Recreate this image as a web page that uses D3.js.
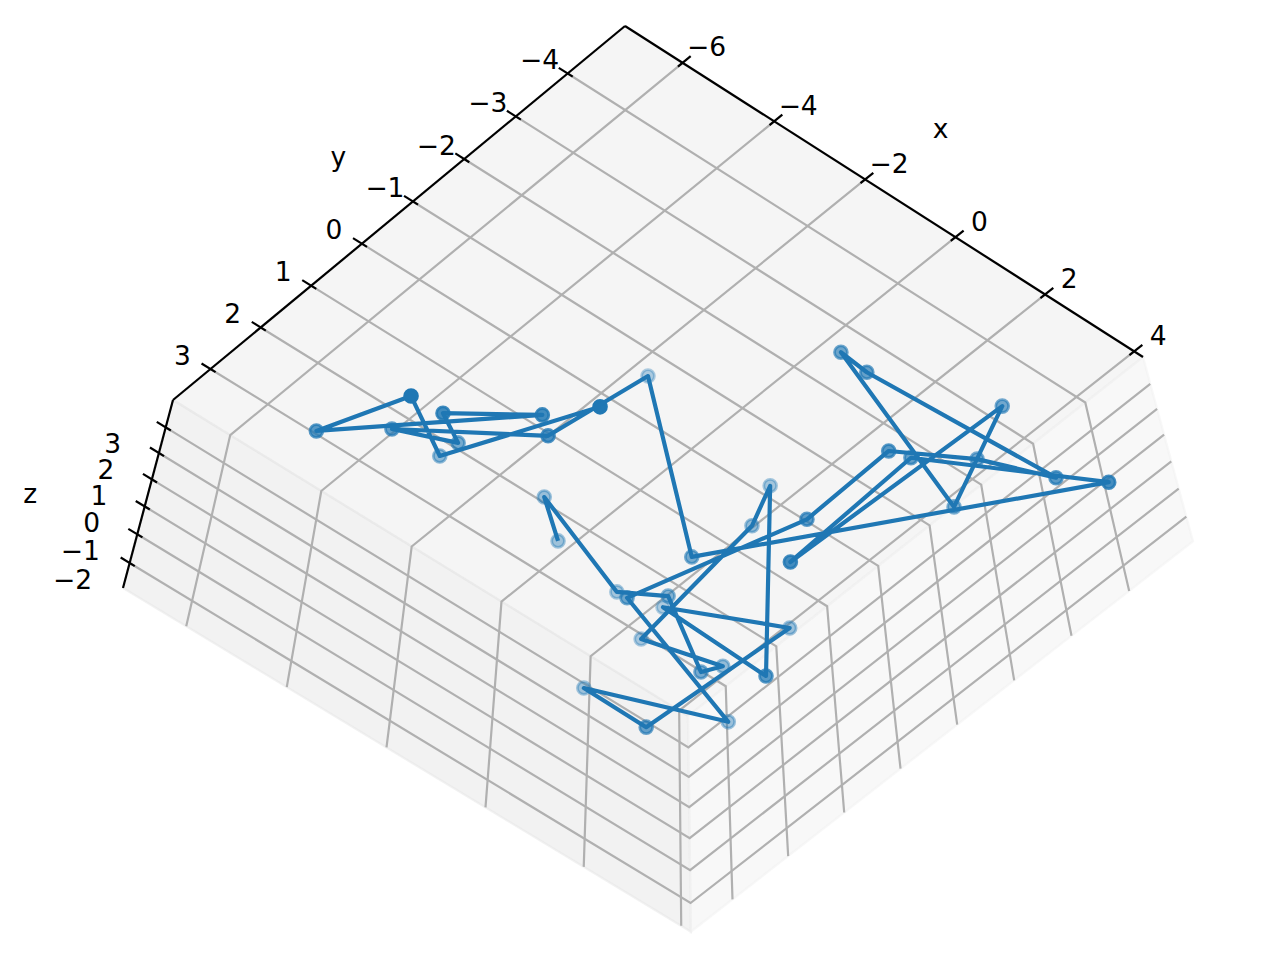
<!DOCTYPE html>
<html><head><meta charset="utf-8"><script src="https://cdn.jsdelivr.net/npm/d3@7"></script>
<style>html,body{margin:0;background:#fff}text{font-family:"DejaVu Sans",sans-serif;fill:#000}</style></head>
<body><svg id="c" width="1280" height="960"></svg>
<script>
// walk values, in path order
const xVals=[-0.89,-1.73,0.62,0.74,1.89,2.68,1.65,1.07,1.06,2.10,1.62,3.11,1.66,1.51,3.61,-0.11,0.66,0.61,2.38,2.97,-0.43,-0.85,2.83,1.88,0.50,1.17,3.22,0.24,-1.79,-3.77,-5.38,-4.08,-5.47,-4.30,-6.39,-6.53,-3.79,-4.25];
const yVals=[1.79,1.31,1.99,1.11,1.51,1.77,2.43,-0.20,-0.58,0.52,1.98,0.86,2.33,3.41,2.48,1.13,-1.51,-3.04,-3.23,-4.04,-3.59,-3.50,-2.42,-4.12,-1.30,-2.99,-4.67,0.23,-0.73,-0.67,0.82,0.80,-0.29,-1.05,1.28,-0.75,1.46,-2.07];
const zVals=[2.45,2.45,2.45,1.10,0.20,1.55,2.45,2.00,2.90,-1.15,2.90,2.00,-0.70,2.00,1.55,0.20,-0.25,-0.25,1.10,-0.25,0.65,1.10,1.10,1.10,-1.60,0.20,-1.15,0.65,3.80,-0.70,0.20,1.10,-1.15,-1.15,-0.25,-2.50,2.00,-2.50];
const xDomain=[-7.25,4.2],yDomain=[-5.1,3.75],zDomain=[4.1,-2.85];
const xTicks=[-6,-4,-2,0,2,4],yTicks=[-4,-3,-2,-1,0,1,2,3],zTicks=[-2,-1,0,1,2,3];

// corners of the box on screen, the camera comes from these
const A=[625,26],B=[1143,357],C=[688,716],D=[173,400],E=[123,588],G=[1193,541];
const dx1=B[0]-C[0],dx2=D[0]-C[0],sx=A[0]-B[0]+C[0]-D[0],dy1=B[1]-C[1],dy2=D[1]-C[1],sy=A[1]-B[1]+C[1]-D[1];
const det=dx1*dy2-dx2*dy1,p=(sx*dy2-dx2*sy)/det,q=(dx1*sy-sx*dy1)/det;
const a=[0,1].map(i=>B[i]-A[i]+p*B[i]),b=[0,1].map(i=>D[i]-A[i]+q*D[i]);
const Re=i=>E[i]*(1+q)-A[i]-b[i],Rg=i=>G[i]*(1+p)-A[i]-a[i];
const r=(Re(0)-Rg(0))/(G[0]-E[0]);
const c=[0,1].map(i=>Re(i)+r*E[i]);

const xS=d3.scaleLinear().domain(xDomain).range([0,1]),yS=d3.scaleLinear().domain(yDomain).range([0,1]),zS=d3.scaleLinear().domain(zDomain).range([0,1]);
const depth=(x,y,z)=>1+p*xS(x)+q*yS(y)+r*zS(z);
function proj(x,y,z){const u=xS(x),v=yS(y),w=zS(z),h=depth(x,y,z);return [0,1].map(i=>(A[i]+a[i]*u+b[i]*v+c[i]*w)/h);}

const svg=d3.select("#c");
const [x0,x1]=xDomain,[y0,y1]=yDomain,[zT,zB]=zDomain;

// panes
const poly=(pts,fill)=>svg.append("polygon").attr("points",pts.map(d=>proj(...d).join(",")).join(" ")).attr("fill",fill).attr("stroke",fill).attr("stroke-width",2.2);
poly([[x0,y0,zT],[x1,y0,zT],[x1,y1,zT],[x0,y1,zT]],"rgba(236,236,236,.5)");
poly([[x0,y1,zT],[x1,y1,zT],[x1,y1,zB],[x0,y1,zB]],"rgba(230,230,230,.5)");
poly([[x1,y0,zT],[x1,y1,zT],[x1,y1,zB],[x1,y0,zB]],"rgba(242,242,242,.5)");

// grid
const grid=svg.append("g");
const pl=(...pts)=>grid.append("polyline").attr("points",pts.map(d=>proj(...d).join(",")).join(" ")).attr("fill","none").attr("stroke","#b0b0b0").attr("stroke-width",2.2);
xTicks.forEach(x=>pl([x,y0,zT],[x,y1,zT],[x,y1,zB]));
yTicks.forEach(y=>pl([x0,y,zT],[x1,y,zT],[x1,y,zB]));
zTicks.forEach(z=>pl([x0,y1,z],[x1,y1,z],[x1,y0,z]));

// axes
const ax=svg.append("g");
const seg=(P,Q)=>ax.append("line").attr("x1",P[0]).attr("y1",P[1]).attr("x2",Q[0]).attr("y2",Q[1]).attr("stroke","#000").attr("stroke-width",2.2);
seg(proj(x0,y0,zT),proj(x1,y0,zT));seg(proj(x0,y0,zT),proj(x0,y1,zT));seg(proj(x0,y1,zT),proj(x0,y1,zB));
const fmt=t=>String(t).replace("-","\u2212");
function tick(P,Q,t,ox,oy){
  const dx=Q[0]-P[0],dy=Q[1]-P[1],n=Math.hypot(dx,dy),ux=dx/n,uy=dy/n;
  seg([P[0]-ux*10.5,P[1]-uy*10.5],[P[0]+ux*6,P[1]+uy*6]);
  ax.append("text").attr("x",P[0]+ox).attr("y",P[1]+oy).attr("dy",".365em").attr("text-anchor","middle").attr("font-size",26.5).text(fmt(t));
}
xTicks.forEach(x=>tick(proj(x,y0,zT),proj(x,y1,zT),x,24,-16));
yTicks.forEach(y=>tick(proj(x0,y,zT),proj(x1,y,zT),y,-28,-14));
zTicks.forEach(z=>tick(proj(x0,y1,z),proj(x1,y1,z),z,z<0?-57:-53,16));
const lab=(s,P,ox,oy)=>ax.append("text").attr("x",P[0]+ox).attr("y",P[1]+oy).attr("dy",".3em").attr("text-anchor","middle").attr("font-size",26.5).text(s);
lab("x",proj((x0+x1)/2,y0,zT),54,-63);
lab("y",proj(x0,(y0+y1)/2,zT),-58,-57);
lab("z",proj(x0,y1,(zT+zB)/2),-119,6);

// points fade with distance, line on top
const idx=d3.range(xVals.length);
const hs=idx.map(i=>depth(xVals[i],yVals[i],zVals[i]));
const alpha=d3.scaleLinear().domain([d3.max(hs),d3.min(hs)]).range([.33,1]);
svg.append("g").selectAll("circle").data(idx.slice().sort((m,n)=>hs[n]-hs[m])).enter().append("circle")
  .attr("cx",i=>proj(xVals[i],yVals[i],zVals[i])[0])
  .attr("cy",i=>proj(xVals[i],yVals[i],zVals[i])[1])
  .attr("r",6.4)
  .attr("fill","#1f77b4").attr("stroke","#1f77b4").attr("stroke-width",2.8)
  .attr("fill-opacity",i=>alpha(hs[i])).attr("stroke-opacity",i=>alpha(hs[i]));
const line=d3.line().x(i=>proj(xVals[i],yVals[i],zVals[i])[0]).y(i=>proj(xVals[i],yVals[i],zVals[i])[1]);
svg.append("path").attr("d",line(idx)).attr("fill","none").attr("stroke","#1f77b4").attr("stroke-width",4.17).attr("stroke-linejoin","round");
</script></body></html>
